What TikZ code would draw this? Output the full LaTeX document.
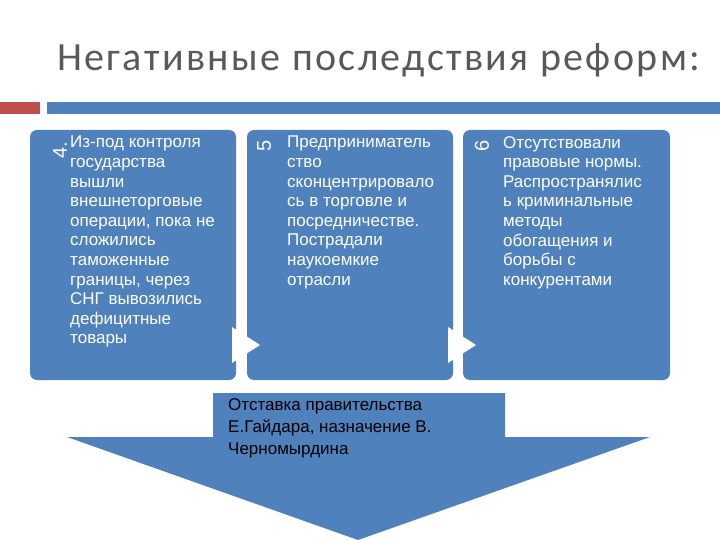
\documentclass[tikz,border=0pt]{standalone}
\usepackage{fontspec}
\setmainfont{Liberation Sans}
\newfontfamily\titlefont[LetterSpace=6]{Carlito}
\definecolor{bl}{HTML}{4F81BD}
\definecolor{rd}{HTML}{C0504D}
\begin{document}
\begin{tikzpicture}[x=1pt,y=-1pt,
  card/.style={fill=bl,rounded corners=7pt,draw=none},
  txt/.style={anchor=north west,text=white,align=left,inner sep=0pt,font=\fontsize{17}{19.6}\selectfont},
  num/.style={text=white,rotate=90,font=\fontsize{20}{20}\selectfont,inner sep=0pt},
  tri/.style={fill=white,draw=none}]
\useasboundingbox (0,0) rectangle (720,540);
\node[anchor=west,text=black!65,font=\titlefont\fontsize{40}{40}\selectfont,inner sep=0pt] (title) at (57,60) {Негативные последствия реформ:};
\fill[rd] (0,102) rectangle (40,114);
\fill[bl] (47,102) rectangle (720,114);
\fill[card] (30,130) rectangle (236,380);
\fill[card] (247,130) rectangle (453,380);
\fill[card] (463,130) rectangle (670,380);
\node[num] (n4) at (60,150) {4.};
\node[num] (n5) at (264,146) {5};
\node[num] (n6) at (482,146) {6};
\node[txt] (t4) at (70,136) {Из-под контроля\\государства\\вышли\\внешнеторговые\\операции, пока не\\сложились\\таможенные\\границы, через\\СНГ вывозились\\дефицитные\\товары};
\node[txt] (t5) at (287,136) {Предприниматель\\ство\\сконцентрировало\\сь в торговле и\\посредничестве.\\Пострадали\\наукоемкие\\отрасли};
\node[txt] (t6) at (503,136) {Отсутствовали\\правовые нормы.\\Распространялис\\ь криминальные\\методы\\обогащения и\\борьбы с\\конкурентами};
\fill[tri] (232,327) -- (260,345) -- (232,363) -- cycle;
\fill[tri] (448,327) -- (476,345) -- (448,363) -- cycle;
\fill[bl] (213,393) -- (505,393) -- (505,437) -- (650,437) -- (358,540) -- (67,437) -- (213,437) -- cycle;
\node[anchor=north west,align=left,inner sep=0pt,font=\fontsize{17}{22}\selectfont] (arr) at (228,398) {Отставка правительства\\Е.Гайдара, назначение В.\\Черномырдина};
\end{tikzpicture}
\end{document}
